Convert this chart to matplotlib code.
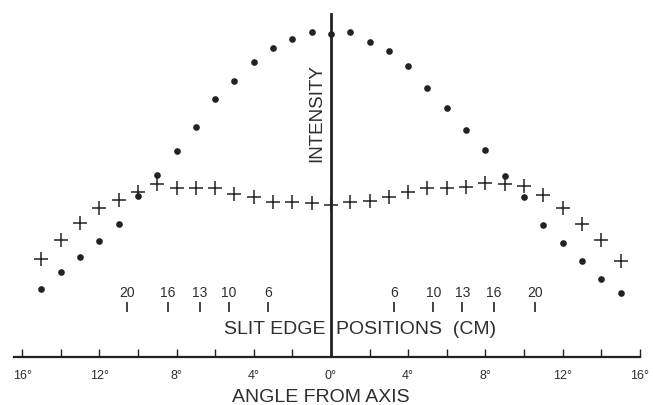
import matplotlib
matplotlib.use("Agg")
import matplotlib.pyplot as plt

plt.rcParams['font.family'] = ['Liberation Sans', 'DejaVu Sans']

# angle from axis (degrees), negative = left side
angles = list(range(-15, 16))

# intensity, dots series (arbitrary units)
dots = [68, 85, 100, 116, 133, 161, 182, 206, 230, 258, 276, 295, 309, 318, 325,
        323,
        325, 315, 306, 291, 269, 249, 227, 207, 181, 160, 132, 114, 96, 78, 64]

# intensity, crosses series (arbitrary units)
crosses = [98, 117, 134, 149, 157, 165, 173, 169, 169, 169, 163, 160, 155, 155, 154,
           152,
           155, 156, 160, 165, 169, 169, 170, 174, 173, 171, 162, 149, 133, 117, 96]

# slit edge positions (cm) and their angles (degrees)
slit_cm = ['6', '10', '13', '16', '20']
slit_deg = [3.25, 5.3, 6.8, 8.45, 10.55]

tick_vals = [-16, -12, -8, -4, 0, 4, 8, 12, 16]
tick_labels = ['16°', '12°', '8°', '4°', '0°', '4°', '8°', '12°', '16°']

fig = plt.figure(figsize=(6.53, 4.06), dpi=100)
ax = fig.add_axes([14 / 653, 48 / 406, 626 / 653, 353 / 406])

ink = '#222222'

ax.plot(angles, dots, linestyle='none', marker='o', markersize=4.8,
        color=ink, markeredgewidth=0)
ax.plot(angles, crosses, linestyle='none', marker='+', markersize=10,
        color=ink, markeredgewidth=1.1)

# intensity axis
ax.plot([0, 0], [0, 343], color=ink, linewidth=2)
ax.text(-0.75, 245, 'INTENSITY', rotation=90, ha='center', va='center',
        fontsize=13.5, color='#2e2e2e')

# slit edge markers on both sides
for side in (-1, 1):
    for cm, d in zip(slit_cm, slit_deg):
        ax.plot(side * d, 50, marker='|', markersize=6.5, color=ink,
                markeredgewidth=1.2)
        ax.text(side * d, 65, cm, ha='center', va='center', fontsize=10,
                color='#2e2e2e')

ax.text(-0.3, 28, 'SLIT EDGE', ha='right', va='center', fontsize=14,
        color='#2e2e2e')
ax.text(0.25, 28, 'POSITIONS  (CM)', ha='left', va='center', fontsize=14,
        color='#2e2e2e')

ax.set_xlim(-16.42, 16.01)
ax.set_ylim(0, 353)

for s in ('top', 'right', 'left'):
    ax.spines[s].set_visible(False)
ax.spines['bottom'].set_linewidth(1.6)
ax.spines['bottom'].set_color(ink)

ax.set_yticks([])
ax.set_xticks(tick_vals)
ax.set_xticklabels(tick_labels, fontsize=9, color='#2e2e2e')
ax.set_xticks(range(-16, 17, 2), minor=True)
ax.tick_params(axis='x', which='both', direction='in', length=6,
               width=1, color=ink, pad=9)

fig.text(321 / 653, 1 - 398 / 406, 'ANGLE FROM AXIS', ha='center',
         va='center', fontsize=14, color='#2e2e2e')

fig.savefig('out.png', dpi=100)
